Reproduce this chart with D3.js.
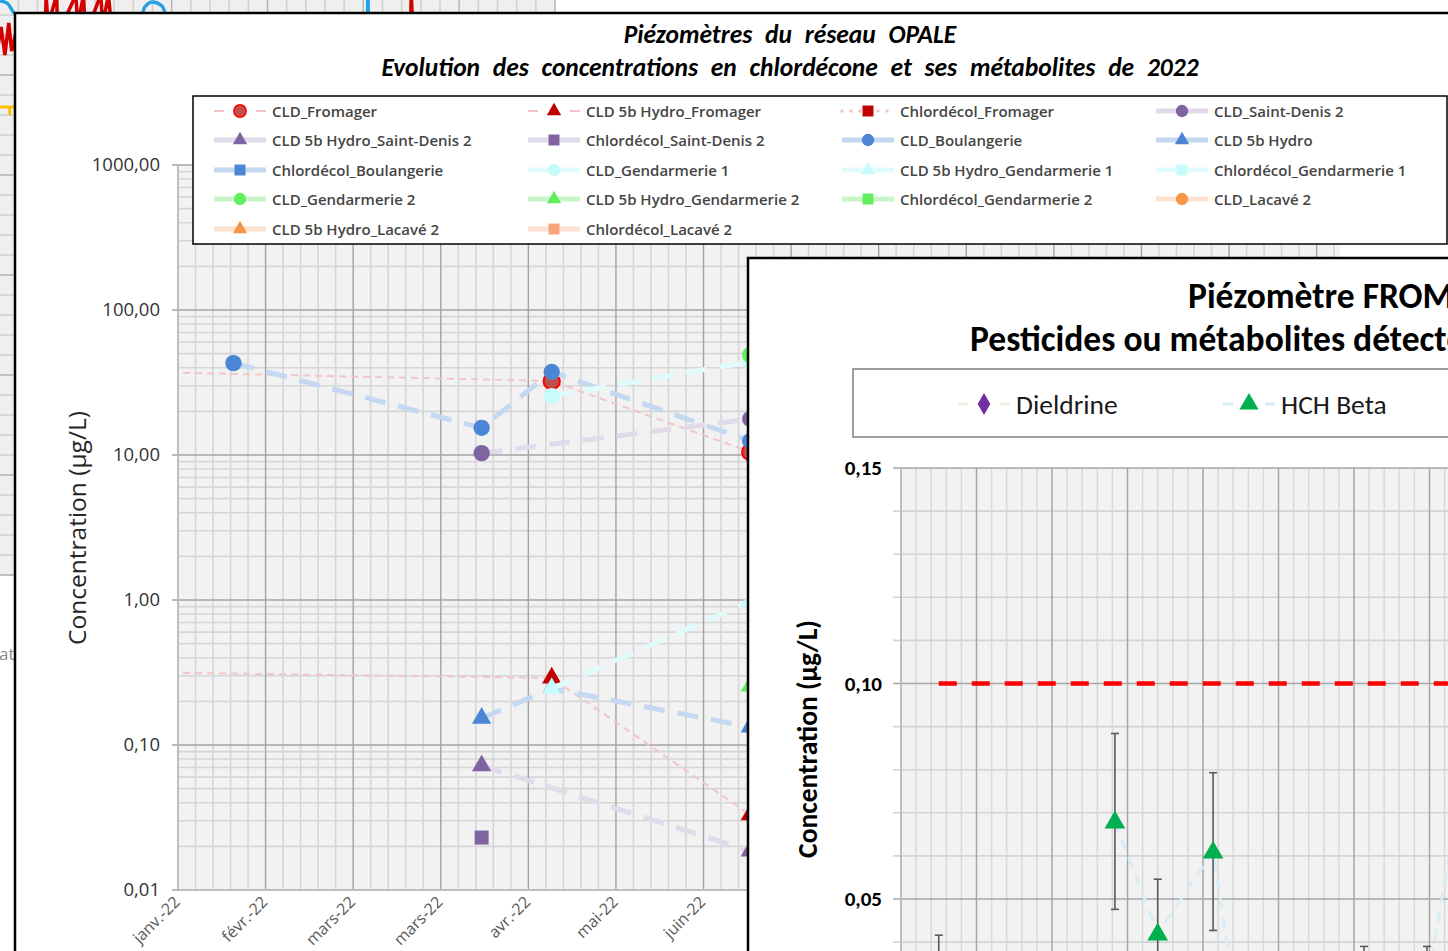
<!DOCTYPE html>
<html><head><meta charset="utf-8">
<script src="https://cdn.jsdelivr.net/npm/d3@7"></script>
<style>
html,body{margin:0;padding:0;background:#fff;overflow:hidden}
svg{display:block}
</style></head><body>
<svg id="c" width="1448" height="951"></svg>
<script>
// ---------------- data : réseau OPALE (log scale) ----------------
const sampleDates = ["2021-12-05", "2022-01-20", "2022-04-15", "2022-05-09", "2022-07-16"];

const cldFromager        = [38,   null, null,  32.4,  10.5];
const hydroFromager      = [0.32, null, null,  0.29,  0.033];
const chlordecolFromager = [null, null, null,  null,  null];
const cldSaintDenis      = [null, null, 10.3,  null,  17.7];
const hydroSaintDenis    = [null, null, 0.072, null,  0.0186];
const chlordecolSaintDenis = [null, null, 0.023, null, null];
const cldBoulangerie     = [null, 43,   15.4,  37.4,  12.5];
const hydroBoulangerie   = [null, null, 0.153, 0.245, 0.133];
const chlordecolBoulangerie = [null, null, null, null, null];
const cldGendarmerie1    = [null, null, null,  25.5,  44];
const hydroGendarmerie1  = [null, null, null,  0.245, 0.98];
const chlordecolGendarmerie1 = [null, null, null, null, null];
const cldGendarmerie2    = [null, null, null,  null,  49];
const hydroGendarmerie2  = [null, null, null,  null,  0.255];
const chlordecolGendarmerie2 = [null, null, null, null, null];
const cldLacave          = [null, null, null,  null,  null];
const hydroLacave        = [null, null, null,  null,  null];
const chlordecolLacave   = [null, null, null,  null,  null];

const seriesNames = [
  "CLD_Fromager", "CLD 5b Hydro_Fromager", "Chlordécol_Fromager", "CLD_Saint-Denis 2",
  "CLD 5b Hydro_Saint-Denis 2", "Chlordécol_Saint-Denis 2", "CLD_Boulangerie", "CLD 5b Hydro",
  "Chlordécol_Boulangerie", "CLD_Gendarmerie 1", "CLD 5b Hydro_Gendarmerie 1", "Chlordécol_Gendarmerie 1",
  "CLD_Gendarmerie 2", "CLD 5b Hydro_Gendarmerie 2", "Chlordécol_Gendarmerie 2", "CLD_Lacavé 2",
  "CLD 5b Hydro_Lacavé 2", "Chlordécol_Lacavé 2"
];
const seriesValues = [
  cldFromager, hydroFromager, chlordecolFromager, cldSaintDenis,
  hydroSaintDenis, chlordecolSaintDenis, cldBoulangerie, hydroBoulangerie,
  chlordecolBoulangerie, cldGendarmerie1, hydroGendarmerie1, chlordecolGendarmerie1,
  cldGendarmerie2, hydroGendarmerie2, chlordecolGendarmerie2, cldLacave,
  hydroLacave, chlordecolLacave
];
const seriesStation = [
  "Fromager", "Fromager", "Fromager", "SaintDenis", "SaintDenis", "SaintDenis",
  "Boulangerie", "Boulangerie", "Boulangerie", "Gendarmerie1", "Gendarmerie1", "Gendarmerie1",
  "Gendarmerie2", "Gendarmerie2", "Gendarmerie2", "Lacave", "Lacave", "Lacave"
];
const xTickLabels = ["janv.-22", "févr.-22", "mars-22", "mars-22", "avr.-22", "mai-22", "juin-22"];
const yTickValues = [0.01, 0.1, 1, 10, 100, 1000];

// ---------------- data : piézomètre FROMAGER (linear scale) ----------------
const fromDates  = ["2022-01-16", "2022-03-27", "2022-04-13", "2022-05-05", "2022-05-17", "2022-07-04", "2022-07-29", "2022-08-12"];
const dieldrine  = [0.032, null, null, null, null, null, null, null];
const hchBeta    = [null, 0.068, 0.042, 0.061, 0.015, 0.030, 0.030, 0.077];
const qualityLimit = [0.10, 0.10];
const fromYTicks = [0.05, 0.10, 0.15];
const uncertainty = 0.30;

// ---------------- data : chart in the background ----------------
const bgRedX  = [0.6, 0.85, 1.1, 1.3, 1.5, 1.65, 1.85, 3.4, 3.45, 3.55, 4.0, 4.05, 5.0, 5.1, 5.4, 5.5, 6.3, 6.4, 6.7, 6.9, 22.45, 22.5, 22.6];
const bgRedY  = [28.0, 25.9, 27.4, 26.0, 27.6, 26.2, 27.0, 27.0, 29.0, 27.5, 29.0, 27.0, 29.0, 27.5, 29.0, 27.0, 29.0, 27.5, 29.0, 27.0, 27.0, 29.0, 27.0];
const bgBlueX = [0.3, 0.6, 1.0, 1.4, 1.9, 8.3, 8.6, 9.0, 9.5, 9.8, 20.2, 20.24, 20.28];
const bgBlueY = [28.0, 28.45, 28.7, 28.6, 28.0, 27.6, 28.4, 28.65, 28.45, 27.6, 27.0, 29.0, 27.0];
const bgOrangeX = [0, 1.55, 1.55, 1.55, 2.5];
const bgOrangeY = [23.4, 23.4, 23.0, 23.4, 23.4];

// ---------------- styles ----------------
const stationLine = {
  Fromager:     {color: "#f2c6c6", width: 2,   dash: "7,5"},
  SaintDenis:   {color: "#e0daea", width: 5,   dash: "21,13"},
  Boulangerie:  {color: "#c4d8f1", width: 5,   dash: "21,13"},
  Gendarmerie1: {color: "#e0fbfb", width: 5,   dash: "21,13"},
  Gendarmerie2: {color: "#c8f6c8", width: 5,   dash: "21,13"},
  Lacave:       {color: "#fde2cf", width: 5,   dash: "21,13"}
};
const stationMarker = {
  Fromager:     ["#c0504d", "#c00000", "#c00000"],
  SaintDenis:   ["#8064a2", "#8064a2", "#8064a2"],
  Boulangerie:  ["#4a86d4", "#4a86d4", "#4a86d4"],
  Gendarmerie1: ["#c9fbfb", "#c9fbfb", "#c9fbfb"],
  Gendarmerie2: ["#5eee5e", "#5eee5e", "#5eee5e"],
  Lacave:       ["#f79646", "#f79646", "#f6a27a"]
};
function kindOf(name) {
  if (name.startsWith("CLD 5b")) return 1;
  if (name.startsWith("Chlordécol")) return 2;
  return 0;
}
const symbolTypes = [d3.symbolCircle, d3.symbolTriangle, d3.symbolSquare];

const svg = d3.select("#c");
const parse = d3.utcParse("%Y-%m-%d");
const axisStart = parse("2022-01-01");
const frNum = d3.formatLocale({decimal: ",", thousands: "", grouping: [3], currency: ["", " €"]});
const f2 = frNum.format(".2f");
const UI = "'Open Sans', 'Noto Sans', sans-serif";
const CAL = "Carlito, Lato, 'Open Sans', sans-serif";

// ================= background chart =================
{
  const g = svg.append("g");
  const bx = d3.scaleLinear().domain([0, 30]).range([-20, 555]);
  const by = d3.scaleLinear().domain([0, 30]).range([575, -25]);
  g.append("rect").attr("x", bx(0)).attr("y", by(30)).attr("width", bx(30) - bx(0)).attr("height", by(0) - by(30)).attr("fill", "#efefef");
  g.selectAll(".bv").data(bx.ticks(30)).join("line")
    .attr("x1", d => bx(d)).attr("x2", d => bx(d)).attr("y1", by(30)).attr("y2", by(0))
    .attr("stroke", d => d % 5 === 0 ? "#b5b5b5" : "#d0d0d0").attr("stroke-width", 1.5);
  g.selectAll(".bh").data(by.ticks(30)).join("line")
    .attr("y1", d => by(d)).attr("y2", d => by(d)).attr("x1", bx(0)).attr("x2", bx(30))
    .attr("stroke", d => d % 5 === 0 ? "#b5b5b5" : "#d0d0d0").attr("stroke-width", 1.5);
  g.append("line").attr("x1", bx(0)).attr("x2", bx(30)).attr("y1", by(0)).attr("y2", by(0)).attr("stroke", "#bfbfbf").attr("stroke-width", 1.5);
  const bl = d3.line().x(d => bx(d[0])).y(d => by(d[1]));
  g.append("path").attr("d", bl(d3.zip(bgOrangeX, bgOrangeY))).attr("fill", "none").attr("stroke", "#ffc000").attr("stroke-width", 3);
  g.append("path").attr("d", bl(d3.zip(bgRedX, bgRedY))).attr("fill", "none").attr("stroke", "#d40000").attr("stroke-width", 3.5);
  g.append("path").attr("d", d3.line().curve(d3.curveMonotoneX).x(d => bx(d[0])).y(d => by(d[1]))(d3.zip(bgBlueX.slice(0, 10), bgBlueY.slice(0, 10))))
    .attr("fill", "none").attr("stroke", "#2b9fe6").attr("stroke-width", 3.5);
  g.append("path").attr("d", bl(d3.zip(bgBlueX.slice(10), bgBlueY.slice(10)))).attr("fill", "none").attr("stroke", "#1aa3f0").attr("stroke-width", 3.5);
  g.append("text").attr("x", 24).attr("y", 660).attr("text-anchor", "end")
    .attr("font-family", UI).attr("font-size", 17).attr("fill", "#8c8c8c").text("Date");
}

// ================= panel : réseau OPALE =================
{
  const g = svg.append("g");
  g.append("rect").attr("x", 15).attr("y", 13).attr("width", 1460).attr("height", 960)
    .attr("fill", "#fff").attr("stroke", "#000").attr("stroke-width", 2.5);

  const P = {l: 178, r: 1340, t: 165, b: 890};
  const x = d3.scaleUtc().domain([axisStart, d3.utcDay.offset(axisStart, 398)]).range([P.l, P.r]);
  const y = d3.scaleLog().domain([0.01, 1000]).range([P.b, P.t]);

  g.append("rect").attr("x", P.l).attr("y", P.t).attr("width", P.r - P.l).attr("height", P.b - P.t).attr("fill", "#f2f2f2");

  const majorX = d3.range(0, 14).map(i => d3.utcDay.offset(axisStart, 30 * i)).filter(d => x(d) <= P.r);
  const minorX = d3.range(0, 67).map(i => d3.utcDay.offset(axisStart, 6 * i)).filter(d => x(d) <= P.r && (+d - +axisStart) / 864e5 % 30 !== 0);
  const minorY = [];
  [0.01, 0.1, 1, 10, 100].forEach(dec => d3.range(2, 10).forEach(k => minorY.push(dec * k)));

  const grid = g.append("g");
  grid.selectAll(".mny").data(minorY).join("line")
    .attr("x1", P.l).attr("x2", P.r).attr("y1", d => y(d)).attr("y2", d => y(d))
    .attr("stroke", "#d6d6d6").attr("stroke-width", 1.6);
  grid.selectAll(".mnx").data(minorX).join("line")
    .attr("x1", d => x(d)).attr("x2", d => x(d)).attr("y1", P.t).attr("y2", P.b)
    .attr("stroke", "#d6d6d6").attr("stroke-width", 1.6);
  grid.selectAll(".mjy").data(yTickValues).join("line")
    .attr("x1", P.l - 6).attr("x2", P.r).attr("y1", d => y(d)).attr("y2", d => y(d))
    .attr("stroke", "#a3a3a3").attr("stroke-width", 1.6);
  grid.selectAll(".mjx").data(majorX).join("line")
    .attr("x1", d => x(d)).attr("x2", d => x(d)).attr("y1", P.t).attr("y2", P.b)
    .attr("stroke", "#a3a3a3").attr("stroke-width", 1.4);
  g.append("line").attr("x1", P.l).attr("x2", P.l).attr("y1", P.t).attr("y2", P.b).attr("stroke", "#bfbfbf").attr("stroke-width", 1.5);
  g.append("line").attr("x1", P.l).attr("x2", P.r).attr("y1", P.b).attr("y2", P.b).attr("stroke", "#bfbfbf").attr("stroke-width", 2);

  // axis labels
  g.selectAll(".yl").data(yTickValues).join("text")
    .attr("x", 160).attr("y", d => y(d) + 6).attr("text-anchor", "end")
    .attr("font-family", UI).attr("font-size", 18.5).attr("fill", "#333").text(d => f2(d));
  g.selectAll(".xl").data(majorX.slice(0, xTickLabels.length)).join("text")
    .attr("transform", d => `translate(${x(d) + 3},${P.b + 13}) rotate(-45)`)
    .attr("text-anchor", "end")
    .attr("font-family", UI).attr("font-size", 16).attr("fill", "#595959")
    .text((d, i) => xTickLabels[i]);
  g.append("text").attr("transform", "translate(86,528) rotate(-90)").attr("text-anchor", "middle")
    .attr("font-family", UI).attr("font-size", 24.5).attr("fill", "#262626").text("Concentration (µg/L)");

  // series
  svg.append("clipPath").attr("id", "clipMain").append("rect")
    .attr("x", P.l).attr("y", P.t - 10).attr("width", P.r - P.l).attr("height", P.b - P.t + 10);
  const plot = g.append("g").attr("clip-path", "url(#clipMain)");
  const line = d3.line().x(d => x(d.date)).y(d => y(d.v));
  seriesNames.forEach((name, i) => {
    const pts = sampleDates.map((s, j) => ({date: parse(s), v: seriesValues[i][j]})).filter(d => d.v != null);
    if (!pts.length) return;
    const st = stationLine[seriesStation[i]];
    const kind = kindOf(name);
    const sg = plot.append("g");
    sg.append("path").attr("d", line(pts)).attr("fill", "none")
      .attr("stroke", st.color).attr("stroke-width", st.width)
      .attr("stroke-dasharray", kind === 2 && seriesStation[i] === "Fromager" ? "2,4" : st.dash);
    const col = stationMarker[seriesStation[i]][kind];
    sg.selectAll("path.m").data(pts).join("path").attr("class", "m")
      .attr("transform", d => `translate(${x(d.date)},${y(d.v)})`)
      .attr("d", d3.symbol().type(symbolTypes[kind]).size([210, 160, 196][kind]))
      .attr("fill", col)
      .attr("stroke", seriesStation[i] === "Fromager" && kind === 0 ? "#ff0000" : "none")
      .attr("stroke-width", 2);
  });

  // legend
  const lg = g.append("g");
  lg.append("rect").attr("x", 193).attr("y", 96).attr("width", 1254).attr("height", 148)
    .attr("fill", "#fff").attr("stroke", "#000").attr("stroke-width", 1.5);
  const colX = [240, 554, 868, 1182], rowY = [111, 140, 170, 199, 229];
  seriesNames.forEach((name, i) => {
    const cx = colX[i % 4], cy = rowY[Math.floor(i / 4)];
    const stn = seriesStation[i], st = stationLine[stn], kind = kindOf(name);
    const e = lg.append("g");
    if (stn === "Fromager") {
      e.append("line").attr("x1", cx - 26).attr("x2", cx + 26).attr("y1", cy).attr("y2", cy)
        .attr("stroke", st.color).attr("stroke-width", kind === 2 ? 3.5 : 2)
        .attr("stroke-linecap", kind === 2 ? "round" : "butt")
        .attr("stroke-dasharray", kind === 2 ? "0,9" : "10,32");
    } else {
      e.append("line").attr("x1", cx - 26).attr("x2", cx + 26).attr("y1", cy).attr("y2", cy)
        .attr("stroke", st.color).attr("stroke-width", 5);
    }
    e.append("path").attr("transform", `translate(${cx},${cy})`)
      .attr("d", d3.symbol().type(symbolTypes[kind]).size([120, 90, 120][kind]))
      .attr("fill", stationMarker[stn][kind])
      .attr("stroke", stn === "Fromager" && kind === 0 ? "#ff0000" : "none").attr("stroke-width", 1.5);
    e.append("text").attr("x", cx + 32).attr("y", cy + 5.5)
      .attr("font-family", UI).attr("font-weight", 600).attr("font-size", 15).attr("fill", "#454545").text(name);
  });

  // title
  const tt = g.append("text").attr("text-anchor", "middle").attr("font-family", CAL)
    .attr("font-weight", "bold").attr("font-style", "italic").attr("font-size", 25.5).attr("fill", "#000");
  tt.append("tspan").attr("x", 790).attr("y", 43).attr("word-spacing", 7).text("Piézomètres du réseau OPALE");
  tt.append("tspan").attr("x", 790).attr("y", 76).attr("word-spacing", 7).text("Evolution des concentrations en chlordécone et ses métabolites de 2022");
}

// ================= panel : piézomètre FROMAGER =================
{
  const g = svg.append("g");
  g.append("rect").attr("x", 748).attr("y", 258).attr("width", 900).attr("height", 900)
    .attr("fill", "#fff").attr("stroke", "#000").attr("stroke-width", 2.5);

  const P = {l: 901, t: 468};
  const x = d3.scaleUtc().domain([axisStart, d3.utcDay.offset(axisStart, 360)]).range([P.l, P.l + 12 * 75.5]);
  const y = d3.scaleLinear().domain([0, 0.15]).range([1114.5, P.t]);
  const R = x.range()[1], B = y(0);

  g.append("rect").attr("x", P.l).attr("y", P.t).attr("width", R - P.l).attr("height", B - P.t).attr("fill", "#f2f2f2");
  const majorX = d3.range(0, 13).map(i => d3.utcDay.offset(axisStart, 30 * i));
  const minorX = d3.range(0, 61).map(i => d3.utcDay.offset(axisStart, 6 * i)).filter((d, i) => i % 5 !== 0);
  const hY = d3.range(0, 16).map(i => i / 100);
  g.selectAll(".mnx").data(minorX).join("line")
    .attr("x1", d => x(d)).attr("x2", d => x(d)).attr("y1", P.t).attr("y2", B).attr("stroke", "#d9d9d9").attr("stroke-width", 1.5);
  g.selectAll(".hy").data(hY).join("line")
    .attr("x1", P.l - 8).attr("x2", R).attr("y1", d => y(d)).attr("y2", d => y(d))
    .attr("stroke", (d, i) => i % 5 === 0 ? "#a6a6a6" : "#d4d4d4").attr("stroke-width", 1.6);
  g.selectAll(".mjx").data(majorX).join("line")
    .attr("x1", d => x(d)).attr("x2", d => x(d)).attr("y1", P.t).attr("y2", B).attr("stroke", "#a6a6a6").attr("stroke-width", 1.5);
  g.append("line").attr("x1", P.l).attr("x2", P.l).attr("y1", P.t).attr("y2", B).attr("stroke", "#bfbfbf").attr("stroke-width", 1.5);

  g.selectAll(".yl").data(fromYTicks).join("text")
    .attr("x", 882).attr("y", d => y(d) + 7).attr("text-anchor", "end")
    .attr("font-family", CAL).attr("font-weight", "bold").attr("font-size", 21).attr("fill", "#000")
    .text(d => f2(d));
  g.append("text").attr("transform", "translate(817,739) rotate(-90)").attr("text-anchor", "middle")
    .attr("font-family", CAL).attr("font-weight", "bold").attr("font-size", 27.5).attr("fill", "#000")
    .text("Concentration (µg/L)");

  // quality limit
  const fd = fromDates.map(parse);
  g.append("line").attr("x1", x(fd[0])).attr("x2", x(fd[fd.length - 1])).attr("y1", y(qualityLimit[0])).attr("y2", y(qualityLimit[1]))
    .attr("stroke", "#ff0000").attr("stroke-width", 4.5).attr("stroke-dasharray", "18,15");

  const line = d3.line().x(d => x(d.date)).y(d => y(d.v));
  const mk = (vals, color, lineColor, type, size) => {
    const pts = fd.map((d, j) => ({date: d, v: vals[j]})).filter(d => d.v != null);
    g.append("path").attr("d", line(pts)).attr("fill", "none").attr("stroke", lineColor)
      .attr("stroke-width", 3).attr("stroke-dasharray", "11,8");
    const eb = g.append("g").attr("stroke", "#595959").attr("stroke-width", 1.6);
    pts.forEach(d => {
      const xx = x(d.date), y1 = y(d.v * (1 + uncertainty)), y2 = y(d.v * (1 - uncertainty));
      eb.append("line").attr("x1", xx).attr("x2", xx).attr("y1", y1).attr("y2", y2);
      eb.append("line").attr("x1", xx - 4).attr("x2", xx + 4).attr("y1", y1).attr("y2", y1);
      eb.append("line").attr("x1", xx - 4).attr("x2", xx + 4).attr("y1", y2).attr("y2", y2);
    });
    g.selectAll(null).data(pts).join("path")
      .attr("transform", d => `translate(${x(d.date)},${y(d.v) + (type === d3.symbolTriangle ? 1 : 0)})`)
      .attr("d", d3.symbol().type(type).size(size)).attr("fill", color);
  };
  mk(dieldrine, "#7030a0", "#ebf1de", d3.symbolDiamond, 140);
  mk(hchBeta, "#00b050", "#d8ecf5", d3.symbolTriangle, 185);

  // legend
  g.append("rect").attr("x", 853).attr("y", 369).attr("width", 800).attr("height", 68)
    .attr("fill", "#fff").attr("stroke", "#7f7f7f").attr("stroke-width", 1.5);
  const legendItems = [
    {name: "Dieldrine", cx: 984, color: "#7030a0", lineColor: "#ebf1de", type: d3.symbolDiamond, size: 140},
    {name: "HCH Beta", cx: 1249, color: "#00b050", lineColor: "#d8ecf5", type: d3.symbolTriangle, size: 160}
  ];
  legendItems.forEach(it => {
    const cy = 404;
    g.append("line").attr("x1", it.cx - 26).attr("x2", it.cx + 26).attr("y1", cy).attr("y2", cy)
      .attr("stroke", it.lineColor).attr("stroke-width", 3).attr("stroke-dasharray", "10,32");
    g.append("path").attr("transform", `translate(${it.cx},${cy})`)
      .attr("d", d3.symbol().type(it.type).size(it.size)).attr("fill", it.color);
    g.append("text").attr("x", it.cx + 32).attr("y", cy + 10)
      .attr("font-family", CAL).attr("font-size", 27.5).attr("fill", "#1a1a1a").text(it.name);
  });

  // title
  g.append("text").attr("x", 1188).attr("y", 308).attr("font-family", CAL).attr("font-weight", "bold")
    .attr("font-size", 35.5).attr("fill", "#000").text("Piézomètre FROMAGER");
  g.append("text").attr("x", 970).attr("y", 351).attr("font-family", CAL).attr("font-weight", "bold")
    .attr("font-size", 35.5).attr("fill", "#000").text("Pesticides ou métabolites détectés");
}
</script>
</body></html>
